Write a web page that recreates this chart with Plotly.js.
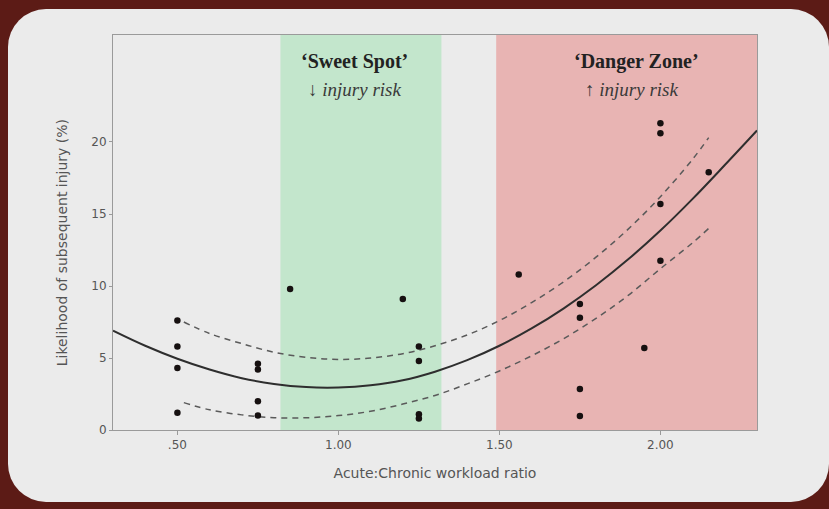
<!DOCTYPE html>
<html>
<head>
<meta charset="utf-8">
<script src="https://cdn.plot.ly/plotly-3.0.1.min.js"></script>
<style>
  html, body { margin: 0; padding: 0; width: 829px; height: 509px; overflow: hidden; background: #5c1b16; }
  #panel { position: absolute; left: 8px; top: 9px; width: 821px; height: 493px; background: #ebebeb; border-radius: 38px; }
  #chart { position: absolute; left: 0; top: 0; width: 829px; height: 509px; }
</style>
</head>
<body>
<div id="panel"></div>
<div id="chart"></div>
<script>
// Observed data points
const ratioX = [0.50, 0.50, 0.50, 0.50, 0.75, 0.75, 0.75, 0.75, 0.85, 1.20, 1.25, 1.25, 1.25, 1.25, 1.56, 1.75, 1.75, 1.75, 1.75, 1.95, 2.00, 2.00, 2.00, 2.00, 2.15];
const injuryY = [7.6, 5.8, 4.3, 1.2, 4.6, 4.2, 2.0, 1.0, 9.8, 9.1, 5.8, 4.8, 1.1, 0.8, 10.8, 8.75, 7.8, 2.85, 0.97, 5.7, 21.3, 20.6, 15.7, 11.75, 17.9];

// Fitted curve
const fitX = [0.3, 0.4, 0.5, 0.6, 0.7, 0.8, 0.9, 1.0, 1.1, 1.2, 1.3, 1.4, 1.5, 1.6, 1.7, 1.8, 1.9, 2.0, 2.1, 2.2, 2.3];
const fitY = [6.9, 5.85, 4.95, 4.2, 3.6, 3.2, 2.98, 2.95, 3.1, 3.45, 4.05, 4.85, 5.85, 7.05, 8.45, 10.05, 11.85, 13.85, 16.05, 18.4, 20.8];

// Confidence band
const ciX = [0.52, 0.6, 0.7, 0.8, 0.9, 1.0, 1.1, 1.2, 1.3, 1.4, 1.5, 1.6, 1.7, 1.8, 1.9, 2.0, 2.1, 2.15];
const ciUpper = [7.5, 6.7, 6.0, 5.4, 5.05, 4.9, 5.0, 5.3, 5.85, 6.6, 7.6, 8.85, 10.3, 12.0, 13.95, 16.2, 18.8, 20.3];
const ciLower = [1.9, 1.4, 1.05, 0.85, 0.85, 1.0, 1.3, 1.8, 2.4, 3.2, 4.1, 5.15, 6.35, 7.75, 9.35, 11.2, 13.0, 14.0];

// Zones
const sweetSpot = [0.82, 1.32];
const dangerZone = [1.49, 2.3];

const xTickVals = [0.5, 1.0, 1.5, 2.0];
const xTickText = ['.50', '1.00', '1.50', '2.00'];
const yTickVals = [0, 5, 10, 15, 20];

const traces = [
  { x: ciX, y: ciUpper, mode: 'lines', line: { color: '#5a5a5a', width: 1.5, dash: '6px,5px', shape: 'spline' }, hoverinfo: 'skip' },
  { x: ciX, y: ciLower, mode: 'lines', line: { color: '#5a5a5a', width: 1.5, dash: '6px,5px', shape: 'spline' }, hoverinfo: 'skip' },
  { x: fitX, y: fitY, mode: 'lines', line: { color: '#2e2e2e', width: 2, shape: 'spline' } },
  { x: ratioX, y: injuryY, mode: 'markers', marker: { color: '#161010', size: 6.5 } }
];

const serif = 'Liberation Serif, Times New Roman, serif';
const sans = 'DejaVu Sans, sans-serif';

const layout = {
  width: 829, height: 509,
  margin: { l: 113, r: 72, t: 35, b: 79 },
  paper_bgcolor: 'rgba(0,0,0,0)',
  plot_bgcolor: 'rgba(0,0,0,0)',
  showlegend: false,
  font: { family: sans, color: '#555' },
  xaxis: {
    range: [0.3, 2.3], tickvals: xTickVals, ticktext: xTickText,
    showgrid: false, zeroline: false,
    showline: true, mirror: true, linecolor: '#9a9a9a', linewidth: 1,
    ticks: 'outside', ticklen: 4, tickcolor: '#9a9a9a',
    tickfont: { size: 12, color: '#555', family: sans },
    title: { text: 'Acute:Chronic workload ratio', font: { size: 14, color: '#555', family: sans }, standoff: 16 }
  },
  yaxis: {
    range: [0, 27.43], tickvals: yTickVals,
    showgrid: false, zeroline: false,
    showline: true, mirror: true, linecolor: '#9a9a9a', linewidth: 1,
    ticks: 'outside', ticklen: 3, tickcolor: '#9a9a9a',
    tickfont: { size: 12, color: '#555', family: sans }
  },
  shapes: [
    { type: 'rect', xref: 'x', yref: 'paper', x0: sweetSpot[0], x1: sweetSpot[1], y0: 0, y1: 1, fillcolor: '#c3e6cc', line: { width: 0 }, layer: 'below' },
    { type: 'rect', xref: 'x', yref: 'paper', x0: dangerZone[0], x1: dangerZone[1], y0: 0, y1: 1, fillcolor: '#e8b4b3', line: { width: 0 }, layer: 'below' }
  ],
  annotations: [
    { x: -0.079, y: 0.473, xref: 'paper', yref: 'paper', xanchor: 'center', yanchor: 'middle', textangle: -90, text: 'Likelihood of subsequent injury (%)', showarrow: false, font: { family: sans, size: 14, color: '#555' } },
    { x: 1.05, y: 0.932, xref: 'x', yref: 'paper', xanchor: 'center', yanchor: 'middle', text: '<b>‘Sweet Spot’</b>', showarrow: false, font: { family: serif, size: 20, color: '#222' } },
    { x: 1.05, y: 0.862, xref: 'x', yref: 'paper', xanchor: 'center', yanchor: 'middle', text: '↓ <i>injury risk</i>', showarrow: false, font: { family: serif, size: 19, color: '#3a3a3a' } },
    { x: 1.925, y: 0.932, xref: 'x', yref: 'paper', xanchor: 'center', yanchor: 'middle', text: '<b>‘Danger Zone’</b>', showarrow: false, font: { family: serif, size: 20, color: '#222' } },
    { x: 1.91, y: 0.862, xref: 'x', yref: 'paper', xanchor: 'center', yanchor: 'middle', text: '↑ <i>injury risk</i>', showarrow: false, font: { family: serif, size: 19, color: '#3a3a3a' } }
  ]
};

Plotly.newPlot('chart', traces, layout, { displayModeBar: false, staticPlot: true });
</script>
</body>
</html>
